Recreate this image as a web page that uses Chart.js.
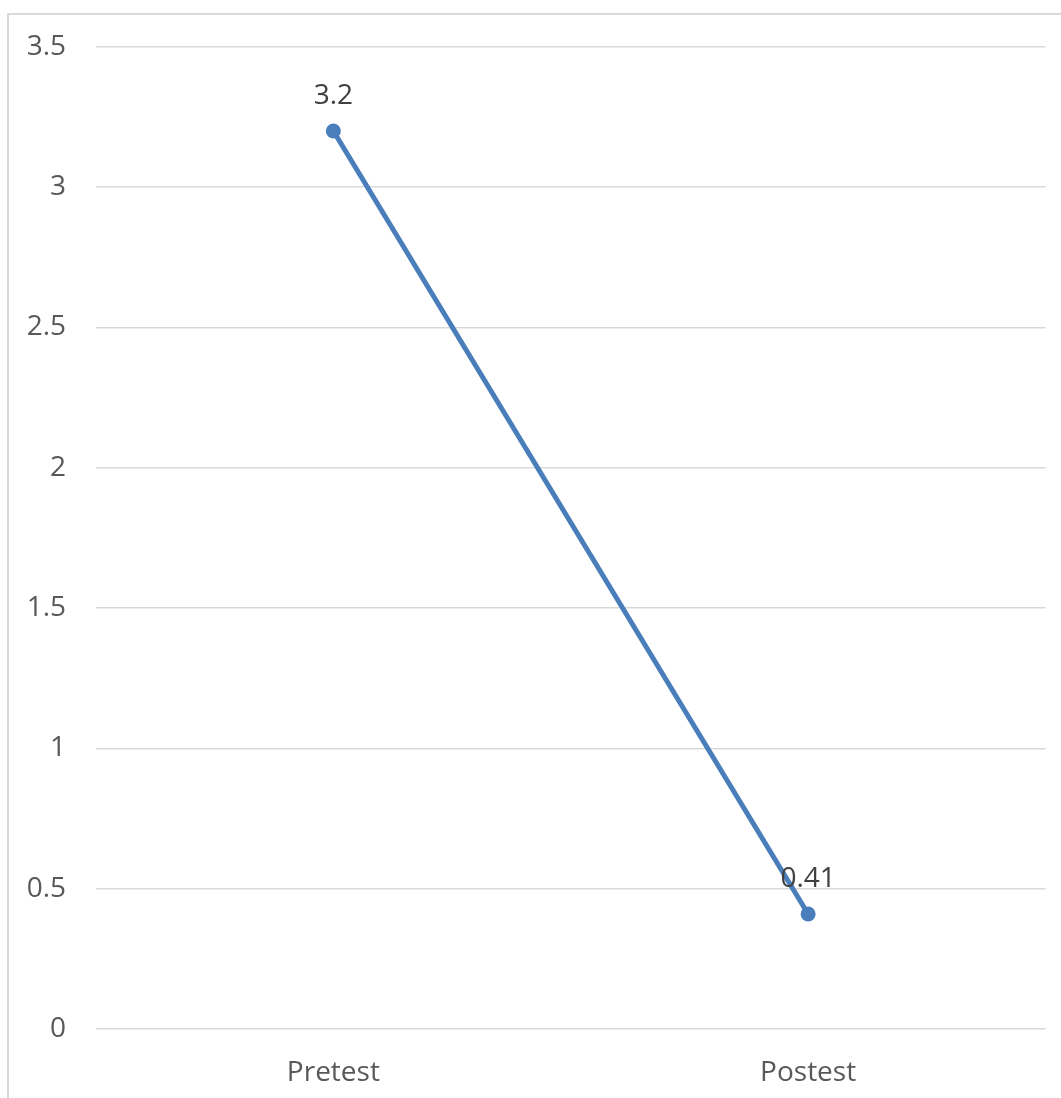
<!DOCTYPE html>
<html>
<head>
<meta charset="utf-8">
<script src="https://cdn.jsdelivr.net/npm/chart.js@4.4.1/dist/chart.umd.min.js"></script>
<style>
  html, body { margin: 0; padding: 0; background: #ffffff; }
  #wrap { width: 1061px; height: 1098px; position: relative; }
  canvas { display: block; }
</style>
</head>
<body>
<div id="wrap"><canvas id="chart" width="1061" height="1098"></canvas></div>
<script>
// Test phases and their mean scores
const categories = ["Pretest", "Postest"];
const scores = [3.2, 0.41];
const yTicks = [0, 0.5, 1, 1.5, 2, 2.5, 3, 3.5];

const FONT = "'Open Sans', 'Liberation Sans', sans-serif";
const LINE_COLOR = "#4a7ebb";

// Thin frame around the chart area (left and top edges visible)
const framePlugin = {
  id: "frame",
  beforeDraw(chart) {
    const ctx = chart.ctx;
    ctx.save();
    ctx.strokeStyle = "#d9d9d9";
    ctx.lineWidth = 2;
    ctx.beginPath();
    ctx.moveTo(8, chart.height + 2);
    ctx.lineTo(8, 14);
    ctx.lineTo(chart.width + 2, 14);
    ctx.stroke();
    ctx.restore();
  }
};

// Value labels above each point
const valueLabels = {
  id: "valueLabels",
  afterDatasetsDraw(chart) {
    const ctx = chart.ctx;
    const meta = chart.getDatasetMeta(0);
    const ds = chart.data.datasets[0];
    ctx.save();
    ctx.font = "28px " + FONT;
    ctx.fillStyle = "#404040";
    ctx.textAlign = "center";
    ctx.textBaseline = "middle";
    meta.data.forEach((pt, i) => {
      ctx.fillText(String(ds.data[i]), pt.x, pt.y - 35);
    });
    ctx.restore();
  }
};

new Chart(document.getElementById("chart"), {
  type: "line",
  data: {
    labels: categories,
    datasets: [{
      data: scores,
      borderColor: LINE_COLOR,
      backgroundColor: LINE_COLOR,
      borderWidth: 5,
      pointRadius: 7.5,
      pointHoverRadius: 7.5,
      pointBackgroundColor: LINE_COLOR,
      pointBorderWidth: 0,
      tension: 0,
      fill: false
    }]
  },
  options: {
    responsive: false,
    animation: false,
    devicePixelRatio: 1,
    layout: { padding: { top: 46, right: 15.5, left: 0, bottom: 0 } },
    plugins: {
      legend: { display: false },
      tooltip: { enabled: false }
    },
    scales: {
      x: {
        type: "category",
        offset: true,
        grid: { display: false, drawTicks: false },
        border: { display: false },
        ticks: {
          color: "#595959",
          font: { family: FONT, size: 28 },
          padding: 27,
          maxRotation: 0
        },
        afterFit(scale) { scale.height = 69; }
      },
      y: {
        min: 0,
        max: 3.5,
        afterBuildTicks(scale) { scale.ticks = yTicks.map(v => ({ value: v })); },
        grid: { color: "#d9d9d9", lineWidth: 1.5, drawTicks: false },
        border: { display: false },
        ticks: {
          color: "#595959",
          font: { family: FONT, size: 28 },
          padding: 30,
          callback: v => String(v)
        },
        afterFit(scale) { scale.width = 96; }
      }
    }
  },
  plugins: [framePlugin, valueLabels]
});
</script>
</body>
</html>
